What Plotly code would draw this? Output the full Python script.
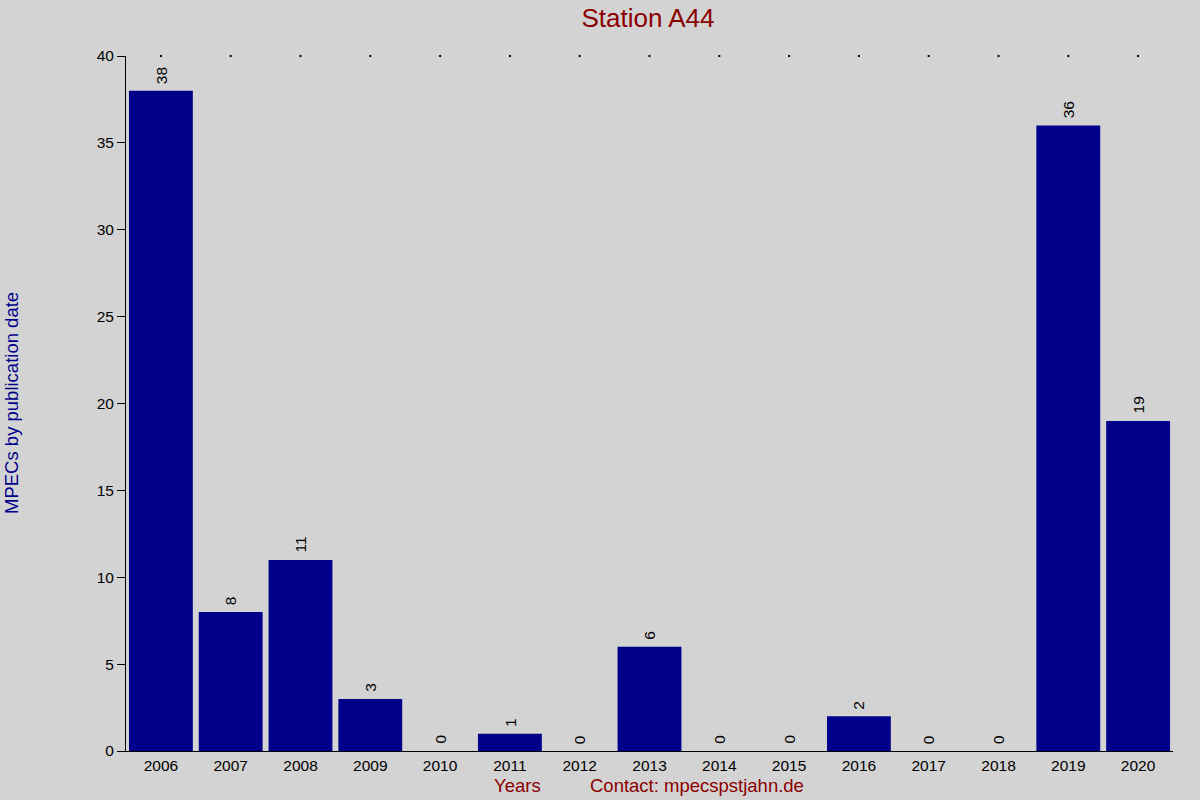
import plotly.graph_objects as go

years = ["2006", "2007", "2008", "2009", "2010", "2011", "2012", "2013",
         "2014", "2015", "2016", "2017", "2018", "2019", "2020"]
counts = [38, 8, 11, 3, 0, 1, 0, 6, 0, 0, 2, 0, 0, 36, 19]
y_ticks = [0, 5, 10, 15, 20, 25, 30, 35, 40]

BG = "#D3D3D3"
BAR = "#00008B"
RED = "#8B0000"
FONT = "Liberation Sans, Arial, sans-serif"

L, R, T, B = 126, 27, 56, 49
W, H = 1200, 800
pw, ph = W - L - R, H - T - B


def px2paper(px, py):
    return (px - L) / pw, (H - B - py) / ph


fig = go.Figure()
fig.add_trace(go.Bar(
    x=years, y=counts, marker=dict(color=BAR, line=dict(width=0)),
    hoverinfo="x+y", showlegend=False,
))
# dotted marks along the top
fig.add_trace(go.Scatter(
    x=years, y=[max(y_ticks)] * len(years), mode="markers",
    marker=dict(color="black", size=2, symbol="square"),
    hoverinfo="skip", showlegend=False, cliponaxis=False,
))

annotations = []
for i, c in enumerate(counts):
    annotations.append(dict(
        x=i, y=c, xref="x", yref="y", text=str(c), textangle=-90,
        showarrow=False, yanchor="bottom", xanchor="center", yshift=5,
        font=dict(family=FONT, size=15.5, color="black"),
    ))

for text, px, py, color, ang in [
    ("Years", 517, 786, RED, 0),
    ("Contact: mpecspstjahn.de", 697, 786, RED, 0),
    ("MPECs by publication date", 11, 403, BAR, -90),
]:
    xx, yy = px2paper(px, py)
    annotations.append(dict(
        text=text, x=xx, y=yy, xref="paper", yref="paper", showarrow=False,
        xanchor="center", yanchor="middle", textangle=ang,
        font=dict(family=FONT, size=18.5, color=color),
    ))

fig.update_layout(
    width=W, height=H,
    paper_bgcolor=BG, plot_bgcolor=BG,
    margin=dict(l=L, r=R, t=T, b=B),
    bargap=0.085,
    font=dict(family=FONT, size=15.5, color="black"),
    title=dict(text="Station A44", x=648 / W, xanchor="center", y=1 - 18 / H,
               yanchor="middle", font=dict(family=FONT, size=26, color=RED)),
    xaxis=dict(type="category", showline=True, linecolor="black", linewidth=1,
               ticks="", showgrid=False, zeroline=False,
               tickfont=dict(size=15.5), range=[-0.5, len(years) - 0.5]),
    yaxis=dict(range=[0, 40], tickvals=y_ticks, showline=True, linecolor="black",
               linewidth=1, ticks="outside", ticklen=8, tickcolor="black",
               showgrid=False, zeroline=False, tickfont=dict(size=15.5)),
    annotations=annotations,
)
fig.write_html("out.html", config={"displayModeBar": False},
               post_script="document.body.style.margin='0';document.body.style.overflow='hidden';")
